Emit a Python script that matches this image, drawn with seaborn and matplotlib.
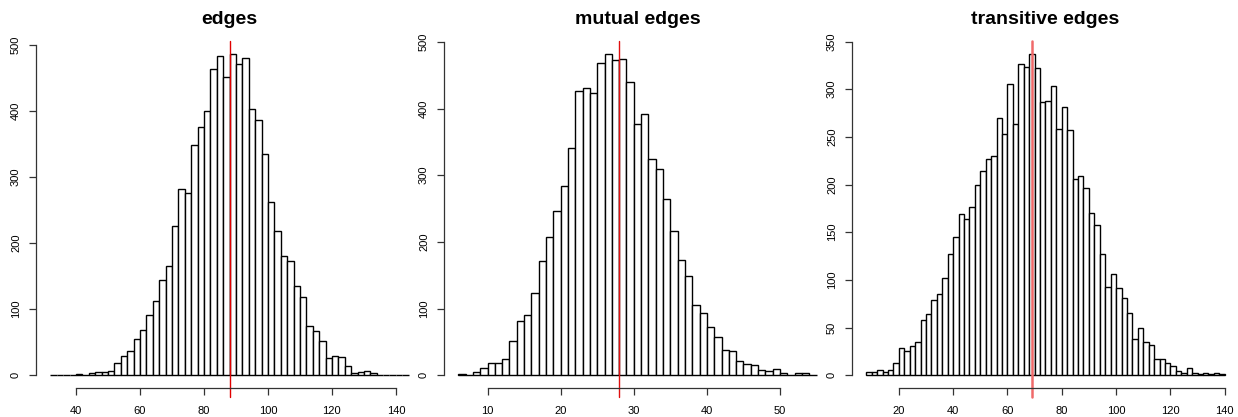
import numpy as np
import pandas as pd
import seaborn as sns
import matplotlib
matplotlib.use("Agg")
import matplotlib.pyplot as plt

# counts per bin
edges_counts = [1, 0, 0, 1, 2, 0, 4, 5, 5, 6,
                18, 29, 36, 55, 69, 91, 112, 144, 165, 226,
                281, 275, 348, 375, 400, 463, 483, 451, 486, 471,
                480, 403, 386, 334, 262, 218, 181, 173, 135, 119,
                74, 67, 51, 26, 29, 27, 14, 4, 5, 6,
                4, 1, 0, 1, 1, 1]
edges_start, edges_width = 32, 2

mutual_counts = [2, 1, 5, 11, 18, 18, 25, 52, 82, 90,
                 123, 172, 207, 247, 284, 341, 427, 431, 424, 469,
                 482, 473, 474, 440, 377, 392, 324, 310, 265, 217,
                 173, 149, 106, 94, 72, 57, 38, 36, 22, 17,
                 16, 8, 7, 10, 3, 0, 4, 3, 1]
mutual_start, mutual_width = 6, 1

transitive_counts = [3, 3, 5, 3, 5, 13, 29, 25, 31, 35,
                     58, 64, 79, 85, 102, 127, 145, 169, 164, 176,
                     199, 214, 227, 230, 270, 253, 305, 264, 326, 323,
                     337, 322, 287, 288, 303, 258, 281, 257, 206, 209,
                     196, 170, 158, 127, 92, 106, 91, 81, 65, 38,
                     50, 35, 32, 17, 17, 13, 10, 4, 2, 7,
                     2, 1, 2, 1, 2, 1]
transitive_start, transitive_width = 8, 2

titles = ["edges", "mutual edges", "transitive edges"]
observed = [88, 28, 69]
x_ticks = [[40, 60, 80, 100, 120, 140], [10, 20, 30, 40, 50], [20, 40, 60, 80, 100, 120, 140]]
y_ticks = [[0, 100, 200, 300, 400, 500], [0, 100, 200, 300, 400, 500],
           [0, 50, 100, 150, 200, 250, 300, 350]]
line_colors = ["#e00000", "#e01010", "#f06a6a"]
line_widths = [1.0, 1.0, 1.8]

sns.set_style("ticks")
plt.rcParams["font.family"] = ["Liberation Sans", "DejaVu Sans"]
plt.rcParams["text.color"] = "black"
plt.rcParams["xtick.labelcolor"] = "black"
plt.rcParams["ytick.labelcolor"] = "black"

fig = plt.figure(figsize=(12.38, 4.17), dpi=100)
lefts = [0.0291, 0.3586, 0.6882]

panels = [(edges_counts, edges_start, edges_width),
          (mutual_counts, mutual_start, mutual_width),
          (transitive_counts, transitive_start, transitive_width)]

for i, (counts, start, width) in enumerate(panels):
    ax = fig.add_axes([lefts[i], 0.0695, 0.3126, 0.832])
    bins = [float(start + width * k) for k in range(len(counts) + 1)]
    df = pd.DataFrame({"x": [b + width / 2 for b in bins[:-1]], "n": counts})
    sns.histplot(x=df["x"], weights=df["n"], bins=bins, ax=ax,
                 color="white", edgecolor="black", linewidth=1, alpha=1)

    # R style limits: 4% padding around the data range
    lo, hi = bins[0], bins[-1]
    pad = (hi - lo) * 0.04
    ax.set_xlim(lo - pad, hi + pad)
    ymax = max(counts)
    ax.set_ylim(-ymax * 0.04, ymax * 1.04)

    ax.axvline(observed[i], ymin=-0.025, ymax=1, color=line_colors[i],
               lw=line_widths[i], clip_on=False)

    ax.set_xticks(x_ticks[i])
    ax.set_yticks(y_ticks[i])
    ax.spines["top"].set_visible(False)
    ax.spines["right"].set_visible(False)
    ax.spines["bottom"].set_bounds(x_ticks[i][0], x_ticks[i][-1])
    ax.spines["left"].set_bounds(y_ticks[i][0], y_ticks[i][-1])
    for s in ["bottom", "left"]:
        ax.spines[s].set_color("#333333")
        ax.spines[s].set_linewidth(0.9)
    ax.tick_params(axis="both", length=4.8, width=0.9, color="#333333",
                   labelsize=8, labelcolor="black", pad=8)
    ax.tick_params(axis="y", labelrotation=90, pad=6)
    for lab in ax.get_yticklabels():
        lab.set_va("center")
    ax.set_xlabel("")
    ax.set_ylabel("")
    ax.set_title(titles[i], fontsize=14, fontweight="bold", color="black", pad=12)

fig.savefig("out.png", dpi=100)
